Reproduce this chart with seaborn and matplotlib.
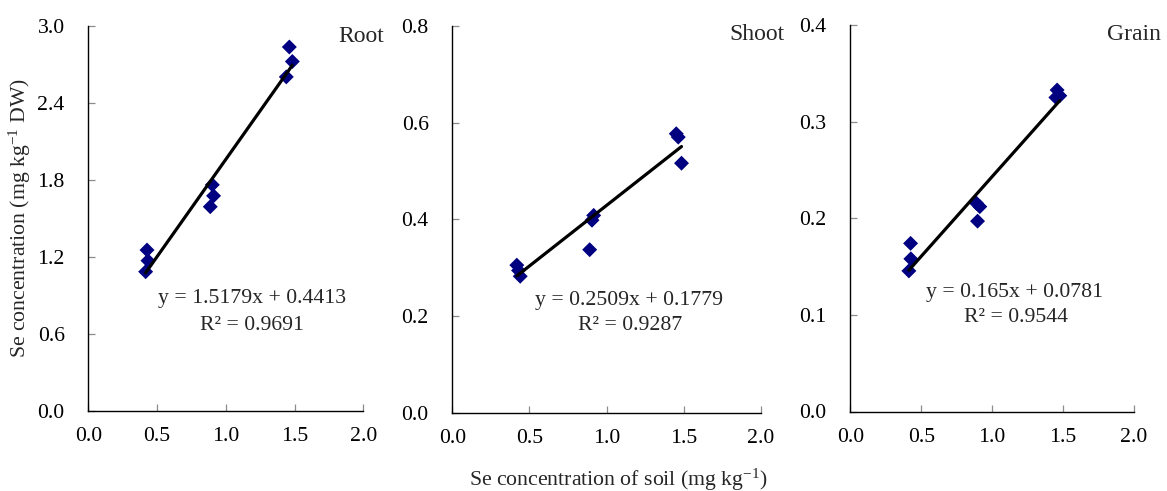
import numpy as np
import pandas as pd
import matplotlib
matplotlib.use("Agg")
import matplotlib.pyplot as plt
import seaborn as sns

# ---- data ----
panels = ["Root", "Shoot", "Grain"]

root_x = [0.417, 0.434, 0.427, 0.887, 0.911, 0.902, 1.440, 1.484, 1.462]
root_y = [1.083, 1.169, 1.252, 1.590, 1.675, 1.761, 2.603, 2.723, 2.836]

shoot_x = [0.418, 0.429, 0.440, 0.890, 0.905, 0.916, 1.451, 1.464, 1.485]
shoot_y = [0.305, 0.294, 0.282, 0.337, 0.398, 0.408, 0.577, 0.570, 0.516]

grain_x = [0.413, 0.427, 0.425, 0.897, 0.890, 0.913, 1.449, 1.458, 1.477]
grain_y = [0.1455, 0.158, 0.174, 0.197, 0.2155, 0.212, 0.325, 0.3327, 0.3268]

slopes = [1.5179, 0.2509, 0.165]
intercepts = [0.4413, 0.1779, 0.0781]
eq_labels = ["y = 1.5179x + 0.4413", "y = 0.2509x + 0.1779", "y = 0.165x + 0.0781"]
r2_labels = ["R² = 0.9691", "R² = 0.9287", "R² = 0.9544"]

x_ticks = [0.0, 0.5, 1.0, 1.5, 2.0]
root_yticks = [0.0, 0.6, 1.2, 1.8, 2.4, 3.0]
shoot_yticks = [0.0, 0.2, 0.4, 0.6, 0.8]
grain_yticks = [0.0, 0.1, 0.2, 0.3, 0.4]

xlabel = "Se concentration of soil (mg kg$^{\\mathregular{-1}}$)"
ylabel = "Se concentration (mg kg$^{\\mathregular{-1}}$ DW)"

# ---- style ----
sns.set_theme(style="white")
plt.rcParams["font.family"] = ["Liberation Serif", "DejaVu Serif"]
plt.rcParams["mathtext.fontset"] = "custom"
plt.rcParams["mathtext.rm"] = "Liberation Serif"
plt.rcParams["mathtext.it"] = "Liberation Serif:italic"
plt.rcParams["mathtext.bf"] = "Liberation Serif:bold"

W, H = 1167, 491
fig = plt.figure(figsize=(W / 100, H / 100), dpi=100)

# axes boxes in pixels: left, right, top, bottom
boxes = [(88.3, 363.3, 26, 410.5), (452.3, 761, 26, 412.5), (850.3, 1134, 25, 411.5)]

datasets = [(root_x, root_y, root_yticks), (shoot_x, shoot_y, shoot_yticks),
            (grain_x, grain_y, grain_yticks)]

eq_pos = [(252, 298), (629, 300), (1015, 292)]
r2_pos = [(252, 325), (630, 325), (1016, 318)]
title_pos = [(338, 37), (729, 35), (1107, 35)]

FS = 15.7
navy = "#000080"

for i, name in enumerate(panels):
    l, r, t, b = boxes[i]
    ax = fig.add_axes([l / W, 1 - b / H, (r - l) / W, (b - t) / H])
    xs, ys, yt = datasets[i]
    df = pd.DataFrame({"x": xs, "y": ys})
    sns.scatterplot(data=df, x="x", y="y", ax=ax, marker="D", s=58,
                    color=navy, edgecolor="none", linewidth=0, zorder=3)
    xl = np.array([min(xs), max(xs)])
    sns.lineplot(x=xl, y=slopes[i] * xl + intercepts[i], ax=ax, color="black",
                 linewidth=2.3, zorder=4)
    ax.set_xlim(0, 2.0)
    ax.set_ylim(yt[0], yt[-1])
    ax.set_xticks(x_ticks)
    ax.set_yticks(yt)
    ax.set_xticklabels([f"{v:.1f}" for v in x_ticks])
    ax.set_yticklabels([f"{v:.1f}" for v in yt])
    ax.set_xlabel("")
    ax.set_ylabel("")
    for s in ["top", "right"]:
        ax.spines[s].set_visible(False)
    for s in ["left", "bottom"]:
        ax.spines[s].set_color("black")
        ax.spines[s].set_linewidth(1.0)
    ax.tick_params(axis="both", direction="in", length=5, width=0.9,
                   color="#8c8c8c", labelsize=FS, labelcolor="black")
    ax.tick_params(axis="y", pad=17)
    ax.tick_params(axis="x", pad=12)
    ax.tick_params(left=True, bottom=True)

    fig.text(eq_pos[i][0] / W, 1 - eq_pos[i][1] / H, eq_labels[i],
             ha="center", va="center", fontsize=FS)
    fig.text(r2_pos[i][0] / W, 1 - r2_pos[i][1] / H, r2_labels[i],
             ha="center", va="center", fontsize=FS)
    fig.text(title_pos[i][0] / W, 1 - title_pos[i][1] / H, name,
             ha="left", va="center", fontsize=17)

fig.text(618 / W, 1 - 480 / H, xlabel, ha="center", va="center", fontsize=FS)
fig.text(20 / W, 1 - 218 / H, ylabel, ha="center", va="center",
         rotation=90, fontsize=FS)

fig.savefig("out.png", dpi=100)
